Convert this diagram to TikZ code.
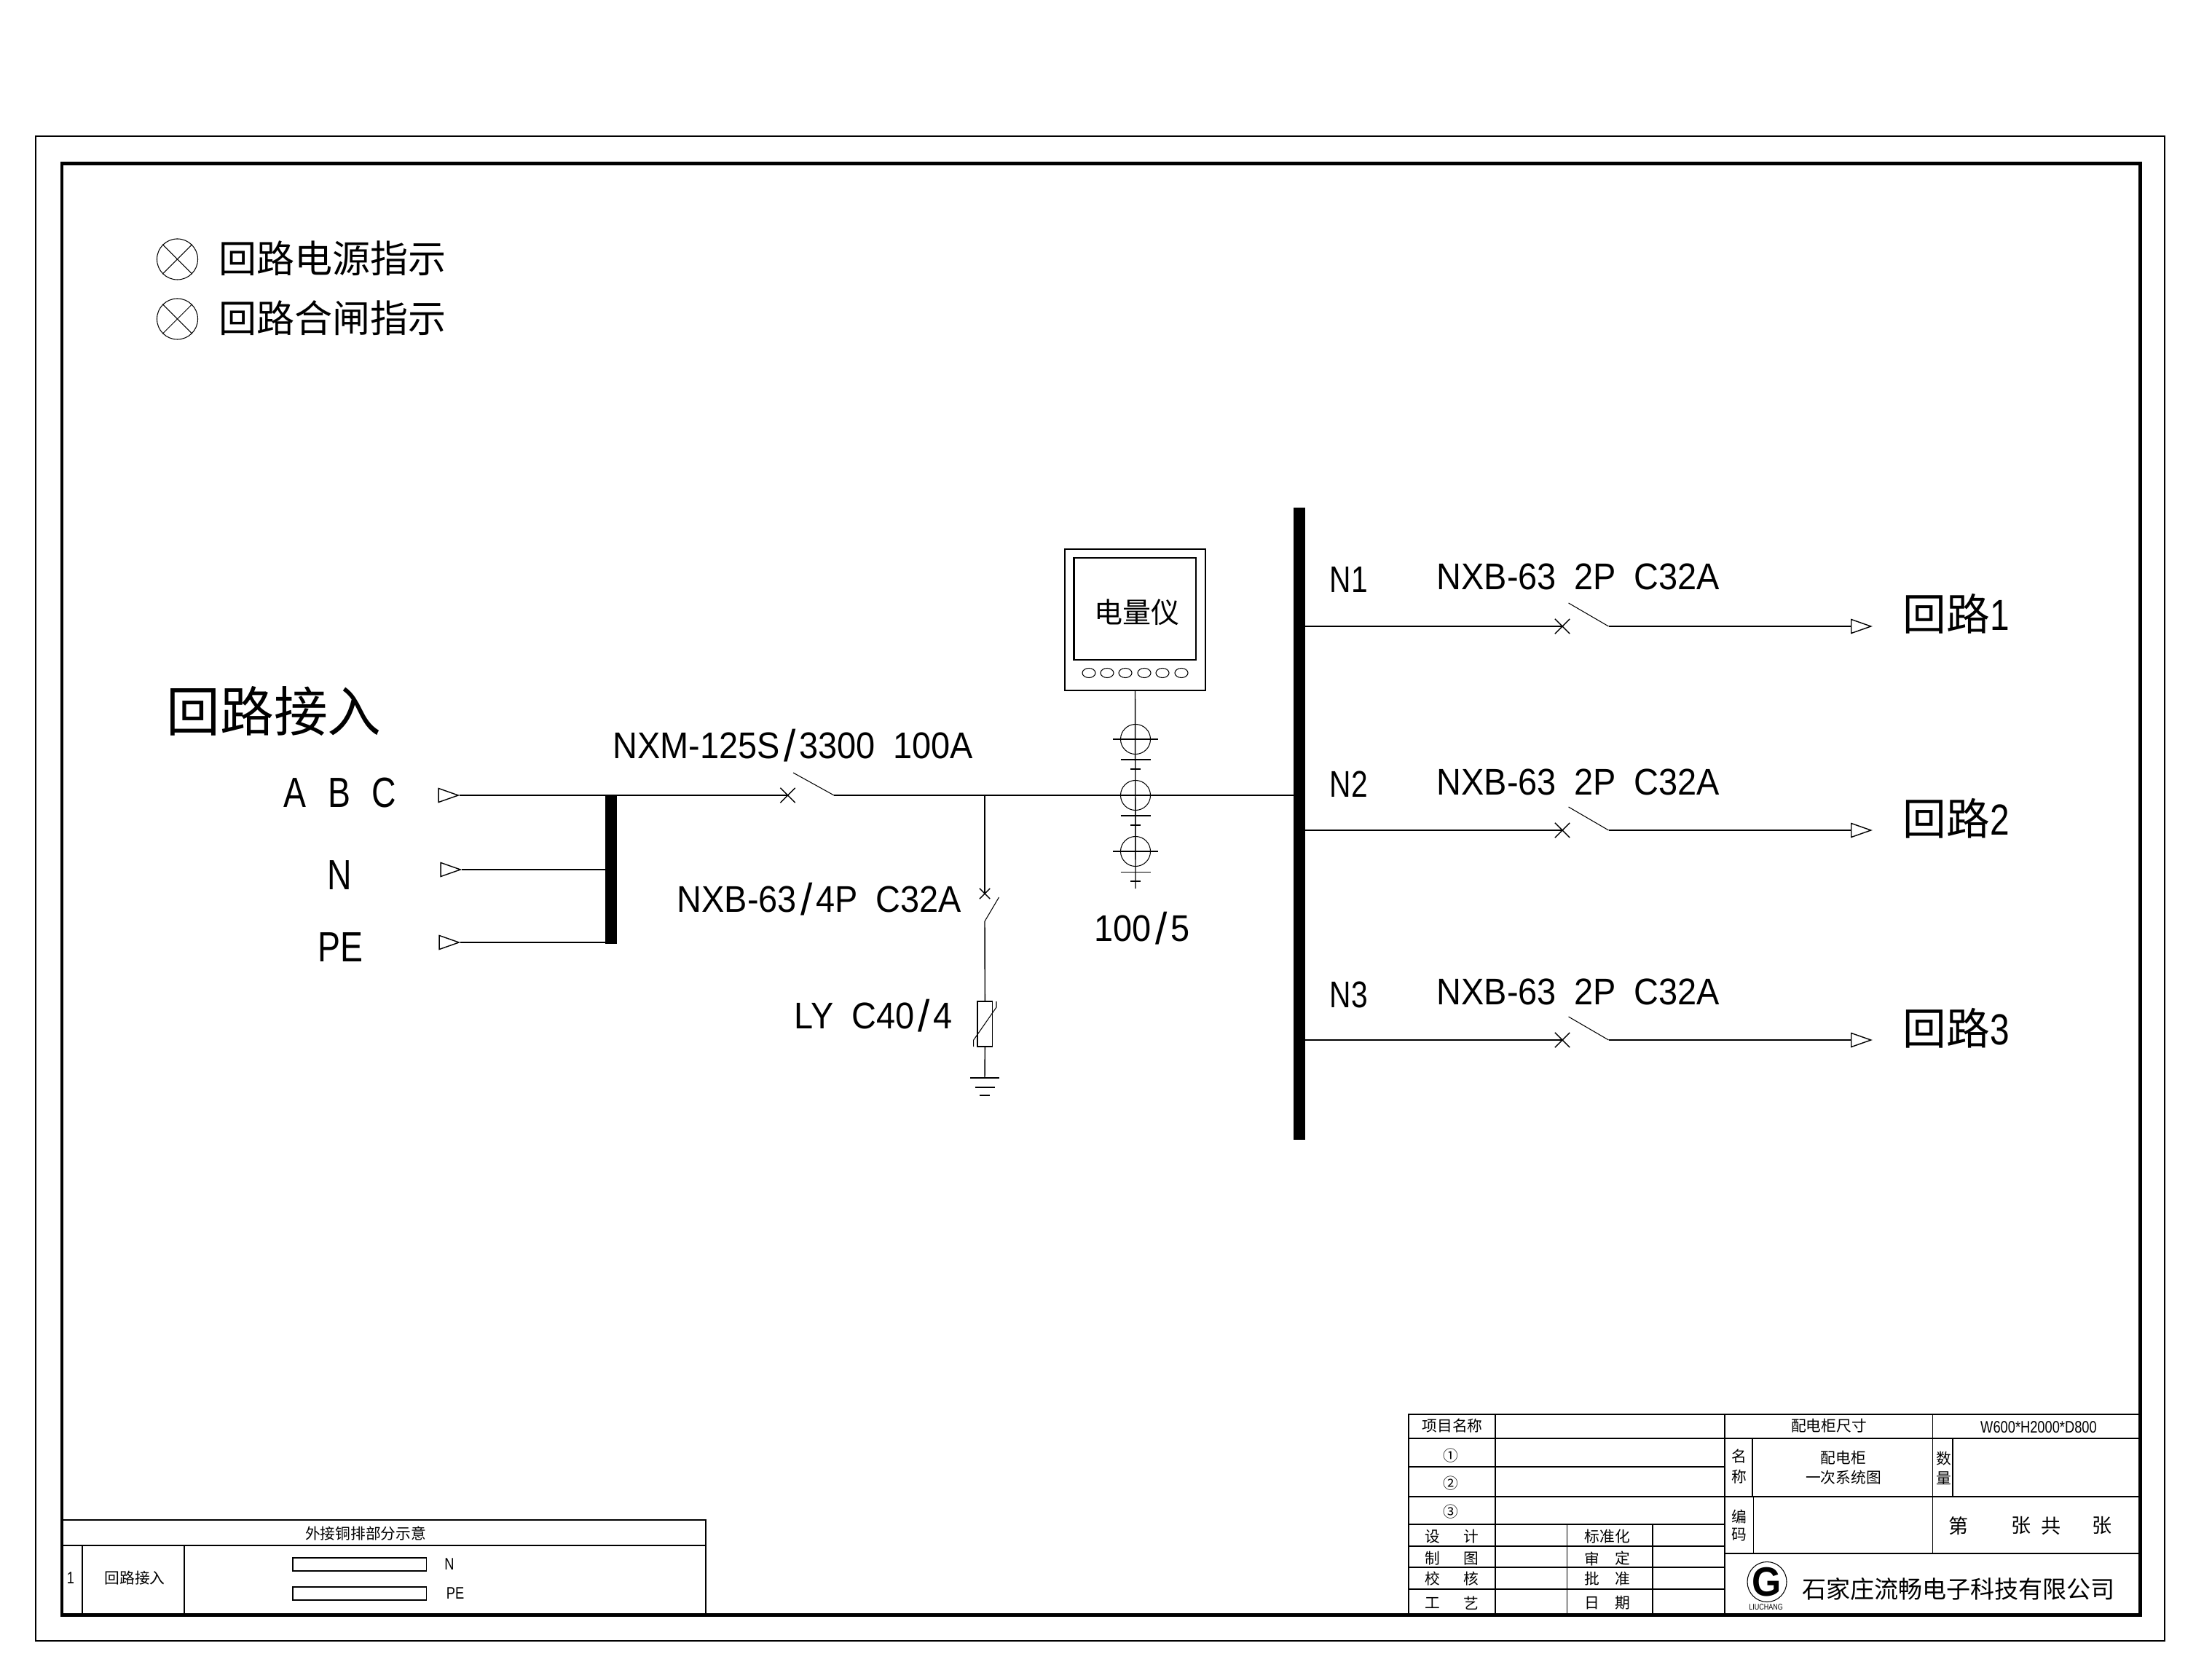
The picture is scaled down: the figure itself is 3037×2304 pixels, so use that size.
\documentclass[tikz,border=0pt]{standalone}
\usepackage{fontspec}
\setmainfont[FakeStretch=0.92,WordSpace=1.9]{Liberation Sans}
\newfontfamily\narrow[FakeStretch=0.8,WordSpace=2.3]{Liberation Sans}
\newfontfamily\cjk{Noto Sans CJK SC}
\newcommand{\wsl}{\kern.1em\raisebox{-.08em}{\scalebox{1.25}[1.2]{/}}\kern.1em}
\usepackage{tikz}
\usetikzlibrary{shapes.geometric}
\usetikzlibrary{shapes.misc}
\pgfdeclarelayer{nodelayer}
\pgfdeclarelayer{edgelayer}
\pgfsetlayers{nodelayer,edgelayer,main}
\tikzset{
  tap/.style={inner sep=0pt, minimum size=0pt},
  busbar/.style={fill, inner sep=0pt},
  xmark/.style={cross out, draw, inner sep=0pt, minimum width=0.19cm, minimum height=0.19cm},
  tipmark/.style={isosceles triangle, isosceles triangle stretches, draw, inner sep=0pt, minimum width=0.19cm, minimum height=0.27cm},
  ring/.style={circle, draw, inner sep=0pt, minimum size=0.41cm, line width=0.3pt},
  lamp/.style={circle, draw, inner sep=0pt, minimum size=0.56cm, line width=0.3pt},
  key/.style={ellipse, draw, inner sep=0pt, minimum width=0.18cm, minimum height=0.13cm, line width=0.3pt},
  lat/.style={inner sep=0pt, anchor=base west, font=\fontsize{14.5}{16}\selectfont},
  latn/.style={inner sep=0pt, anchor=base west, font=\fontsize{14.5}{16}\narrow},
  latb/.style={inner sep=0pt, anchor=base west, font=\fontsize{16.5}{18}\narrow},
  latc/.style={inner sep=0pt, font=\fontsize{6.5}{7}\narrow},
  cjkm/.style={inner sep=0pt, font=\fontsize{11.1}{13}\cjk},
  cjkl/.style={inner sep=0pt, anchor=base west, font=\fontsize{17}{19}\cjk},
  cjkh/.style={inner sep=0pt, font=\fontsize{21}{24}\cjk},
  cjkn/.style={inner sep=0pt, font=\fontsize{14.8}{17}\cjk},
  cjks/.style={inner sep=0pt, font=\fontsize{5.9}{7}\cjk},
  cjkt/.style={inner sep=0pt, font=\fontsize{7.7}{9}\cjk},
  cjkc/.style={inner sep=0pt, font=\fontsize{9.4}{11}\cjk}
}
\begin{document}
\begin{tikzpicture}[x=0.01cm, y=-0.01cm, line width=0.4pt]
  \useasboundingbox (0, 0) rectangle (3037, 2304);
  \begin{pgfonlayer}{nodelayer}
    \node [lamp] (l1) at (243.5, 356) {};
    \node [lamp] (l2) at (243.5, 438) {};
    \node [cjkn, anchor=west] (t1) at (300, 355) {回路电源指示};
    \node [cjkn, anchor=west] (t2) at (300, 437) {回路合闸指示};
    \node [cjkh] (t3) at (376, 976) {回路接入};
    \node [latb] (t4) at (389, 1108) {A B C};
    \node [latb] (t5) at (449, 1221) {N};
    \node [latb] (t6) at (436, 1320) {PE};
    \node [tipmark, anchor=apex] (a1) at (631, 1092) {};
    \node [tipmark, anchor=apex] (a2) at (634, 1194) {};
    \node [tipmark, anchor=apex] (a3) at (632, 1294) {};
    \node [busbar, minimum width=0.16cm, minimum height=2.04cm] (bus0) at (839, 1194) {};
    \node [tap] (b1) at (831, 1194) {};
    \node [tap] (b2) at (831, 1294) {};
    \node [xmark] (x0) at (1081.5, 1092) {};
    \node [tap] (s0) at (1089, 1061) {};
    \node [tap] (h0) at (1145, 1092) {};
    \node [tap] (j0) at (1352, 1092) {};
    \node [tap] (j1) at (1559, 1092) {};
    \node [tap] (e0) at (1776, 1092) {};
    \node [lat] (t7) at (841, 1041) {NXM-125S\wsl 3300 100A};
    \node [lat] (t8) at (929, 1252) {NXB-63\wsl 4P C32A};
    \node [lat] (t9) at (1090, 1412) {LY C40\wsl 4};
    \node [lat] (t10) at (1502, 1292) {100\wsl 5};
    \node [xmark, minimum width=0.13cm, minimum height=0.13cm] (x1) at (1352, 1227) {};
    \node [tap] (s1) at (1371.5, 1232) {};
    \node [tap] (h1) at (1352, 1265) {};
    \node [draw, inner sep=0pt, minimum width=0.207cm, minimum height=0.62cm] (ly) at (1352.3, 1406) {};
    \node [tap] (g0) at (1352, 1480) {};
    \node [tap] (g1) at (1332, 1480) {};
    \node [tap] (g2) at (1372, 1480) {};
    \node [tap] (g3) at (1338.5, 1493) {};
    \node [tap] (g4) at (1365.5, 1493) {};
    \node [tap] (g5) at (1345, 1504) {};
    \node [tap] (g6) at (1359, 1504) {};
    \node [tap] (v0) at (1368, 1375) {};
    \node [tap] (v1) at (1368, 1383) {};
    \node [tap] (v2) at (1336.7, 1428) {};
    \node [tap] (v3) at (1336.7, 1437) {};
    \node [draw, inner sep=0pt, minimum width=1.93cm, minimum height=1.94cm] (met) at (1558.5, 851) {};
    \node [draw, inner sep=0pt, minimum width=1.675cm, minimum height=1.40cm, line width=0.6pt] (scr) at (1558.3, 836) {};
    \node [cjkm] (t11) at (1561, 841) {电量仪};
    \node [key] (k1) at (1495, 924) {};
    \node [key] (k2) at (1520, 924) {};
    \node [key] (k3) at (1545, 924) {};
    \node [key] (k4) at (1571, 924) {};
    \node [key] (k5) at (1596, 924) {};
    \node [key] (k6) at (1622, 924) {};
    \node [tap] (m0) at (1559, 1220) {};
    \node [ring] (c1) at (1559, 1015) {};
    \node [ring] (c2) at (1559, 1092) {};
    \node [ring] (c3) at (1559, 1169) {};
    \node [tap] (p1) at (1528, 1015) {};
    \node [tap] (p2) at (1590, 1015) {};
    \node [tap] (p3) at (1538.5, 1043) {};
    \node [tap] (p4) at (1579.5, 1043) {};
    \node [tap] (p5) at (1552, 1056) {};
    \node [tap] (p6) at (1566, 1056) {};
    \node [tap] (p7) at (1538.5, 1120) {};
    \node [tap] (p8) at (1579.5, 1120) {};
    \node [tap] (p9) at (1552, 1133) {};
    \node [tap] (p10) at (1566, 1133) {};
    \node [tap] (p11) at (1528, 1169) {};
    \node [tap] (p12) at (1590, 1169) {};
    \node [tap] (p13) at (1538.5, 1197.5) {};
    \node [tap] (p14) at (1579.5, 1197.5) {};
    \node [tap] (p15) at (1552, 1210) {};
    \node [tap] (p16) at (1566, 1210) {};
    \node [busbar, minimum width=0.16cm, minimum height=8.68cm] (bus1) at (1784, 1131) {};
    \node [latn] (n1) at (1825, 814) {N1};
    \node [latn] (n2) at (1825, 1094) {N2};
    \node [latn] (n3) at (1825, 1383) {N3};
    \node [lat] (d1) at (1972, 810) {NXB-63 2P C32A};
    \node [lat] (d2) at (1972, 1091) {NXB-63 2P C32A};
    \node [lat] (d3) at (1972, 1379) {NXB-63 2P C32A};
    \node [tap] (f1) at (1792, 860) {};
    \node [tap] (f2) at (1792, 1140) {};
    \node [tap] (f3) at (1792, 1428) {};
    \node [xmark] (y1) at (2145, 860) {};
    \node [xmark] (y2) at (2145, 1140) {};
    \node [xmark] (y3) at (2145, 1428) {};
    \node [tap] (u1) at (2153.5, 828) {};
    \node [tap] (u2) at (2153.5, 1108) {};
    \node [tap] (u3) at (2153.5, 1396) {};
    \node [tap] (w1) at (2208.5, 860) {};
    \node [tap] (w2) at (2208.5, 1140) {};
    \node [tap] (w3) at (2208.5, 1428) {};
    \node [tipmark, anchor=lower side] (o1) at (2541, 860) {};
    \node [tipmark, anchor=lower side] (o2) at (2541, 1140) {};
    \node [tipmark, anchor=lower side] (o3) at (2541, 1428) {};
    \node [cjkl] (r1) at (2612, 866) {回路{\fontsize{17}{19}\narrow 1}};
    \node [cjkl] (r2) at (2612, 1146) {回路{\fontsize{17}{19}\narrow 2}};
    \node [cjkl] (r3) at (2612, 1434) {回路{\fontsize{17}{19}\narrow 3}};
    \node [cjks] (q1) at (502, 2106) {外接铜排部分示意};
    \node [latc] (q2) at (97, 2167) {1};
    \node [cjks] (q3) at (185, 2167) {回路接入};
    \node [draw, inner sep=0pt, minimum width=1.835cm, minimum height=0.18cm] (q4) at (493.7, 2148) {};
    \node [draw, inner sep=0pt, minimum width=1.835cm, minimum height=0.18cm] (q5) at (493.7, 2188) {};
    \node [latc] (q6) at (617, 2148) {N};
    \node [latc] (q7) at (625, 2188) {PE};
    \node [cjks] (z1) at (1994, 1958) {项目名称};
    \node [cjks] (z2) at (2511, 1958) {配电柜尺寸};
    \node [latc] (z3) at (2799, 1960) {W600*H2000*D800};
    \node [cjks] (z4) at (1992, 1999) {①};
    \node [cjks] (z5) at (1992, 2037) {②};
    \node [cjks] (z6) at (1992, 2076) {③};
    \node [cjks] (z7) at (2388, 2000) {名};
    \node [cjks] (z8) at (2388, 2028) {称};
    \node [cjks] (z9) at (2531, 2002) {配电柜};
    \node [cjks] (z10) at (2531, 2029) {一次系统图};
    \node [cjks] (z11) at (2669, 2003) {数};
    \node [cjks] (z12) at (2669, 2030) {量};
    \node [cjks] (z13) at (2388, 2082) {编};
    \node [cjks] (z14) at (2388, 2107) {码};
    \node [cjkt] (z15) at (2689, 2095) {第};
    \node [cjkt] (z16) at (2775, 2095) {张};
    \node [cjkt] (z17) at (2816, 2095) {共};
    \node [cjkt] (z18) at (2886, 2095) {张};
    \node [cjks] (z19) at (1967, 2110) {设};
    \node [cjks] (z20) at (2020, 2110) {计};
    \node [cjks] (z21) at (1967, 2140) {制};
    \node [cjks] (z22) at (2020, 2140) {图};
    \node [cjks] (z23) at (1967, 2168) {校};
    \node [cjks] (z24) at (2020, 2168) {核};
    \node [cjks] (z25) at (1967, 2201) {工};
    \node [cjks] (z26) at (2020, 2201) {艺};
    \node [cjks] (z27) at (2207, 2110) {标准化};
    \node [cjks] (z28) at (2186, 2140) {审};
    \node [cjks] (z29) at (2228, 2140) {定};
    \node [cjks] (z30) at (2186, 2168) {批};
    \node [cjks] (z31) at (2228, 2168) {准};
    \node [cjks] (z32) at (2186, 2201) {日};
    \node [cjks] (z33) at (2228, 2201) {期};
    \node [draw, ellipse, inner sep=0pt, minimum width=0.54cm, minimum height=0.55cm, line width=0.3pt] (logo) at (2426, 2172) {};
    \node [inner sep=0pt, font=\fontsize{16}{16}\bfseries] (logog) at (2426, 2172) {G};
    \node [inner sep=0pt, font=\fontsize{3.2}{4}\narrow] (logot) at (2424.5, 2207) {LIUCHANG};
    \node [cjkc] (z34) at (2689, 2182) {石家庄流畅电子科技有限公司};
  \end{pgfonlayer}
  \begin{pgfonlayer}{edgelayer}
    \draw (49, 187) rectangle (2972, 2253);
    \draw [line width=1.4pt] (85, 224.5) rectangle (2938, 2217.5);
    \draw [line width=0.3pt] (l1.45) to (l1.225);
    \draw [line width=0.3pt] (l1.135) to (l1.315);
    \draw [line width=0.3pt] (l2.45) to (l2.225);
    \draw [line width=0.3pt] (l2.135) to (l2.315);
    \draw (a1.apex) to (x0.center);
    \draw (a2.apex) to (b1.center);
    \draw (a3.apex) to (b2.center);
    \draw [line width=0.3pt] (s0.center) to (h0.center);
    \draw (h0.center) to (e0.center);
    \draw (j0.center) to (x1.center);
    \draw [line width=0.3pt] (s1.center) to (h1.center);
    \draw (h1.center) to (ly.north);
    \draw (ly.south) to (g0.center);
    \draw (g1.center) to (g2.center);
    \draw (g3.center) to (g4.center);
    \draw (g5.center) to (g6.center);
    \draw [line width=0.3pt] (v0.center) to (v1.center) to (v2.center) to (v3.center);
    \draw (met.south) to (m0.center);
    \draw (p1.center) to (p2.center);
    \draw (p3.center) to (p4.center);
    \draw (p5.center) to (p6.center);
    \draw (p7.center) to (p8.center);
    \draw (p9.center) to (p10.center);
    \draw (p11.center) to (p12.center);
    \draw (p13.center) to (p14.center);
    \draw (p15.center) to (p16.center);
    \draw (f1.center) to (y1.center);
    \draw (f2.center) to (y2.center);
    \draw (f3.center) to (y3.center);
    \draw [line width=0.3pt] (u1.center) to (w1.center);
    \draw [line width=0.3pt] (u2.center) to (w2.center);
    \draw [line width=0.3pt] (u3.center) to (w3.center);
    \draw (w1.center) to (o1.lower side);
    \draw (w2.center) to (o2.lower side);
    \draw (w3.center) to (o3.lower side);
    \draw (85, 2087) to (969, 2087) to (969, 2217);
    \draw (85, 2122) to (969, 2122);
    \draw (113, 2122) to (113, 2217);
    \draw (253, 2122) to (253, 2217);
    \draw (1934, 2217) to (1934, 1942) to (2938, 1942);
    \draw (1934, 1975) to (2938, 1975);
    \draw (1934, 2014) to (2368, 2014);
    \draw (1934, 2055) to (2938, 2055);
    \draw (1934, 2093) to (2368, 2093);
    \draw (1934, 2123) to (2368, 2123);
    \draw (1934, 2152) to (2368, 2152);
    \draw (1934, 2182) to (2368, 2182);
    \draw (2368, 2133) to (2938, 2133);
    \draw (2053, 1942) to (2053, 2217);
    \draw (2151.5, 2093) to (2151.5, 2217);
    \draw (2269, 2093) to (2269, 2217);
    \draw (2368, 1942) to (2368, 2217);
    \draw (2406, 1975) to (2406, 2055);
    \draw (2407.5, 2055) to (2407.5, 2133);
    \draw (2653.5, 1942) to (2653.5, 2133);
    \draw (2681, 1975) to (2681, 2055);
  \end{pgfonlayer}
\end{tikzpicture}
\end{document}
